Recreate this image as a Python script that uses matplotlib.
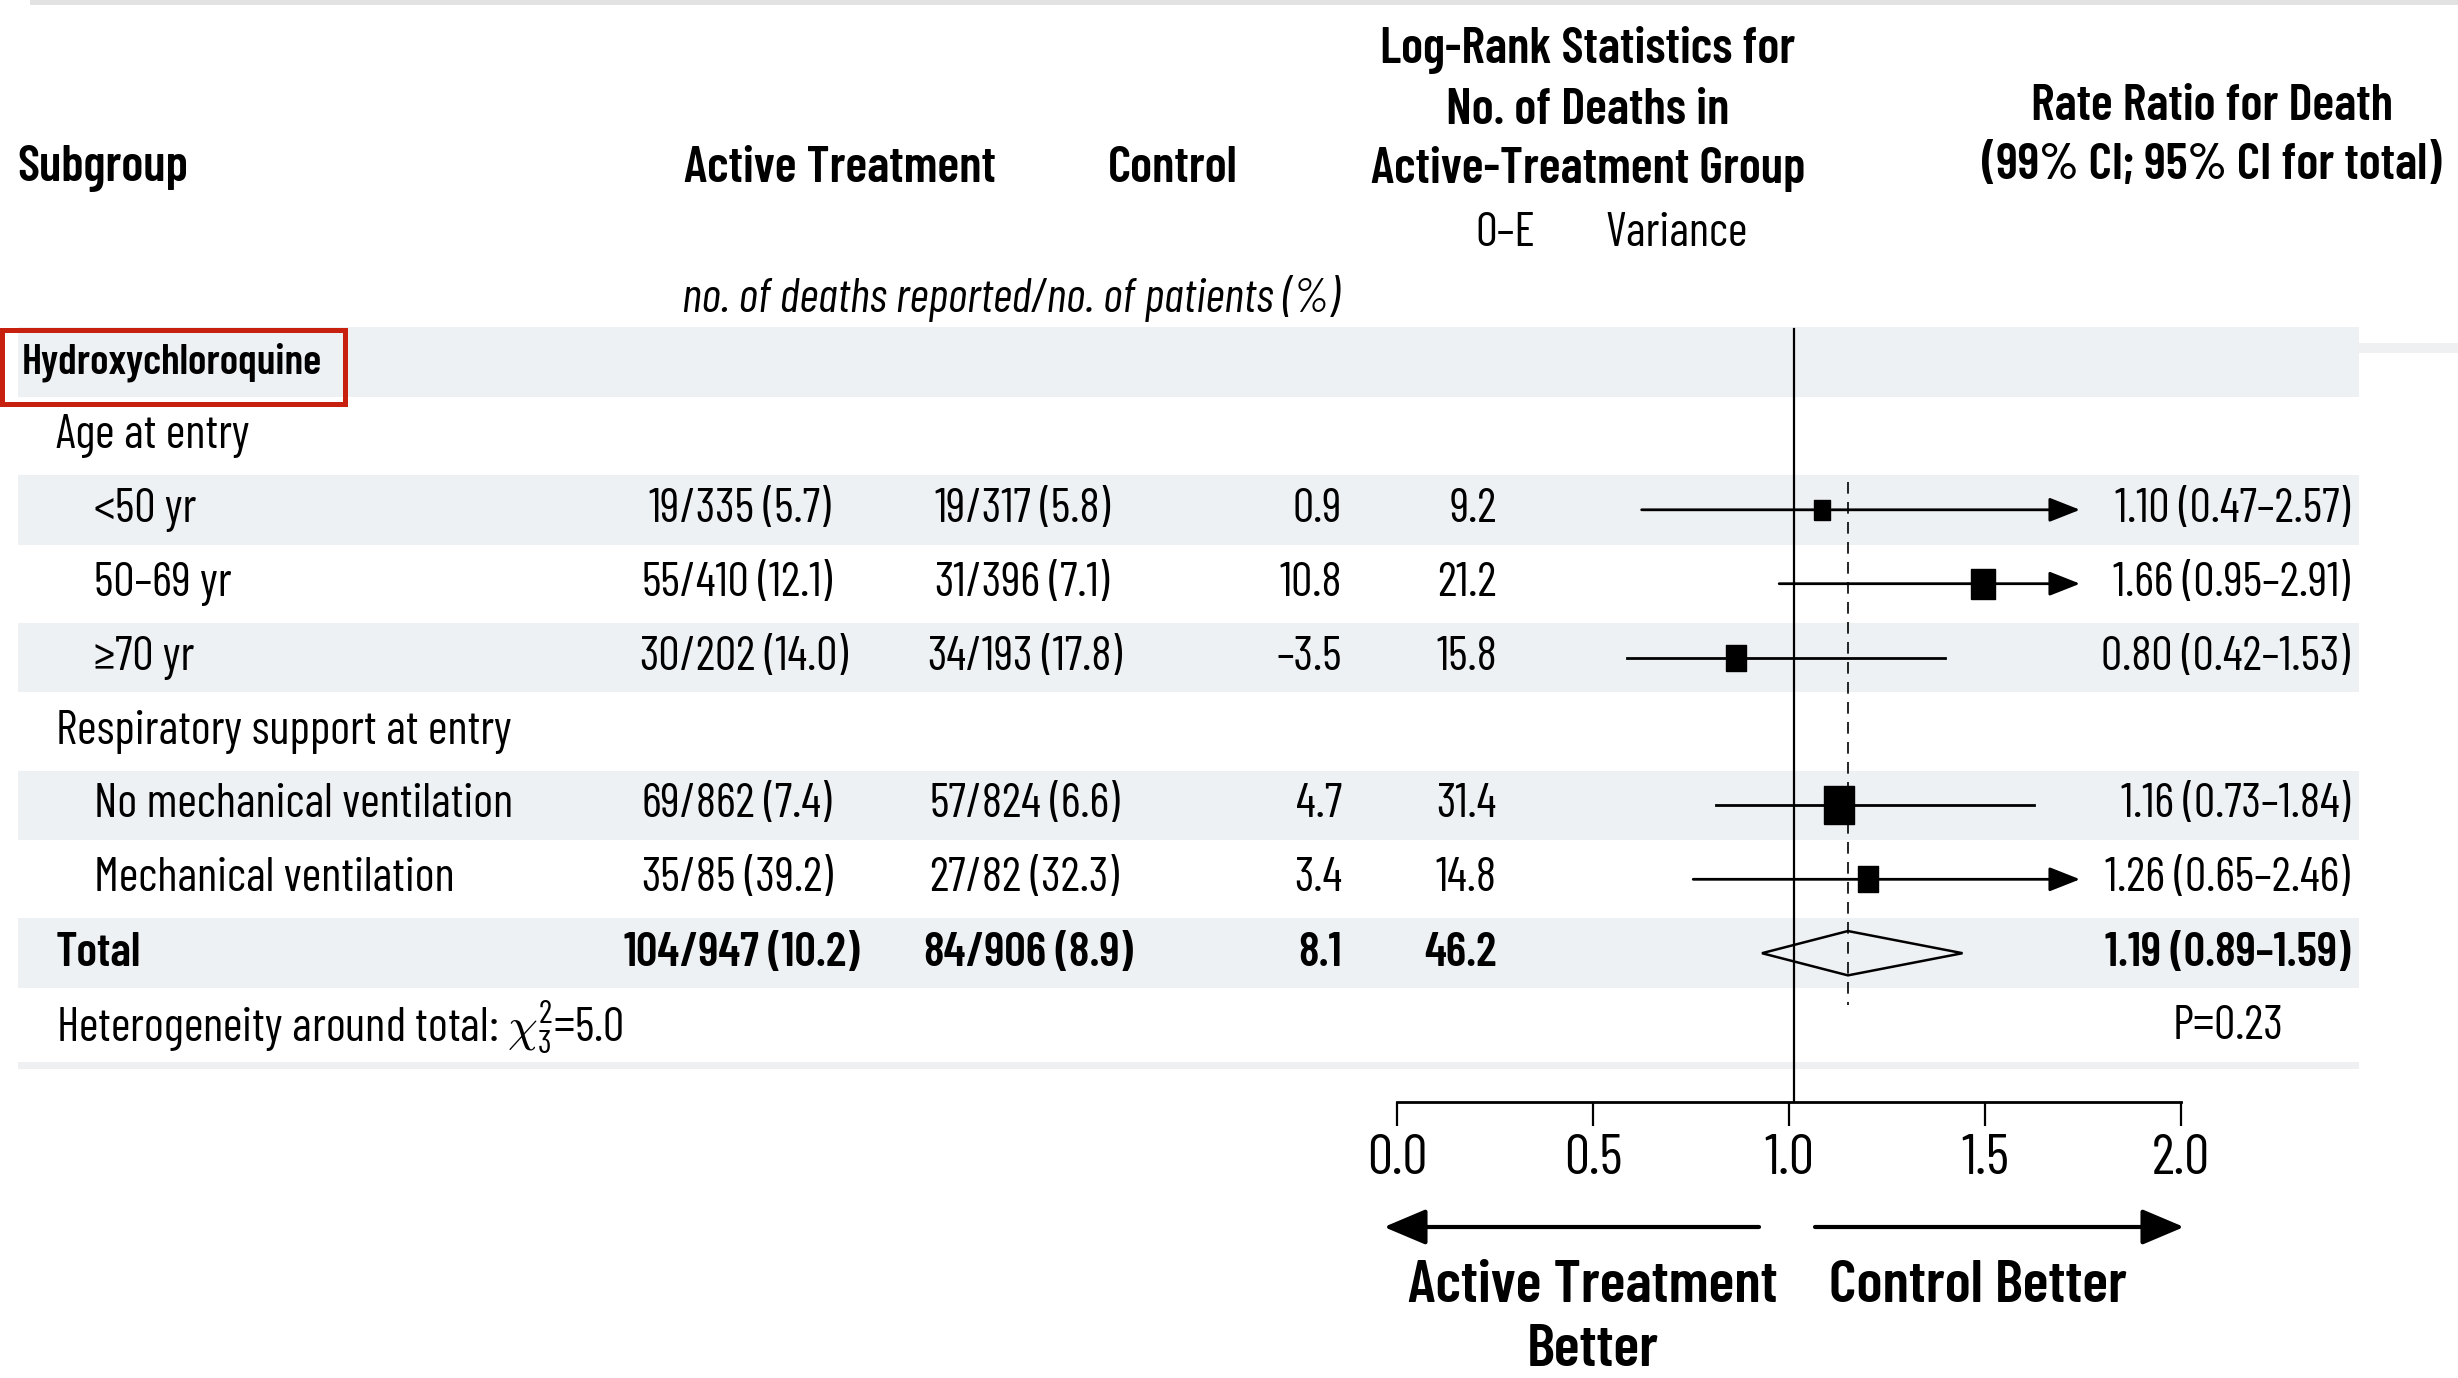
import matplotlib
matplotlib.use("Agg")
import math
import matplotlib.pyplot as plt
from matplotlib import font_manager
from matplotlib.font_manager import FontProperties
from matplotlib.textpath import TextToPath
from matplotlib.patches import Rectangle, Polygon
from matplotlib.path import Path

# ---- data ----
subgroups = ["<50 yr", "50–69 yr", "≥70 yr", "No mechanical ventilation", "Mechanical ventilation"]
active_deaths = [19, 55, 30, 69, 35]
active_n = [335, 410, 202, 862, 85]
active_pct = [5.7, 12.1, 14.0, 7.4, 39.2]
control_deaths = [19, 31, 34, 57, 27]
control_n = [317, 396, 193, 824, 82]
control_pct = [5.8, 7.1, 17.8, 6.6, 32.3]
o_minus_e = [0.9, 10.8, -3.5, 4.7, 3.4]
variance = [9.2, 21.2, 15.8, 31.4, 14.8]
rate_ratio = [1.10, 1.66, 0.80, 1.16, 1.26]
ci_low = [0.47, 0.95, 0.42, 0.73, 0.65]
ci_high = [2.57, 2.91, 1.53, 1.84, 2.46]

total_active = (104, 947, 10.2)
total_control = (84, 906, 8.9)
total_o_minus_e = 8.1
total_variance = 46.2
total_rr = 1.19
total_low = 0.89
total_high = 1.59
chi2_het = 5.0
p_value = 0.23

axis_ticks = [0.0, 0.5, 1.0, 1.5, 2.0]
clip_high = 2.0

# rows: 0 drug, 1 age header, 2-4 ages, 5 resp header, 6-7 resp, 8 total, 9 heterogeneity
data_rows = [2, 3, 4, 6, 7]
total_row = 8
band_rows = [0, 2, 4, 6, 8]

# ---- fonts: pick the condensed sans closest to the journal's narrow face ----
styles = {}
for f in font_manager.fontManager.ttflist:
    styles.setdefault(f.name, set()).add((f.style, f.weight))
candidates = ["Fira Sans Extra Condensed", "PT Sans Narrow", "Roboto Condensed", "Archivo Narrow",
              "Liberation Sans Narrow", "Asap Condensed", "Encode Sans Condensed",
              "IBM Plex Sans Condensed", "Fira Sans Condensed", "Barlow Condensed"]
ttp = TextToPath()


def width_pt(text, fam, size, weight="normal"):
    return ttp.get_text_width_height_descent(text, FontProperties(family=fam, size=size, weight=weight),
                                             ismath=False)[0]


# target widths measured on the reference, in points (px * 0.72)
sample, sample_w = "19/335 (5.7)", 182 * 0.72
best = None
for name in candidates:
    st = styles.get(name, set())
    if not any(s == "normal" and w <= 500 for s, w in st) or not any(s == "normal" and w >= 600 for s, w in st):
        continue
    r = sample_w / width_pt(sample, name, 34)
    if r > 1.12:
        continue
    if best is None or abs(math.log(r)) < abs(math.log(best[1])):
        best = (name, r)
if best is None:
    best = ("Liberation Sans", sample_w / width_pt(sample, "Liberation Sans", 34))
family = best[0]

plt.rcParams["font.family"] = [family, "DejaVu Sans"]
plt.rcParams["mathtext.fontset"] = "custom"
plt.rcParams["mathtext.rm"] = family
plt.rcParams["mathtext.it"] = family + ":italic"

hw = "semibold"
body = 34 * best[1]
head = 34 * (312 * 0.72) / width_pt("Active Treatment", family, 34, hw)
big = 40 * (370 * 0.72) / width_pt("Active Treatment", family, 40, hw)
head = min(head, body * 1.15)
big = min(big, body * 1.35)
drug_size = min(body, 34 * (300 * 0.72) / width_pt("Hydroxychloroquine", family, 34, hw))

W, H = 2458, 1378
Y0, DY = 362, 73.9          # pixel y of row 0, row pitch
X0, PPU = 1507, 286.5       # forest: pixel x of ratio 0, pixels per unit

fig = plt.figure(figsize=(W / 100, H / 100), dpi=100)
ax = fig.add_axes([0, 0, 1, 1])
ax.set_xlim(0, W)
ax.set_ylim(H, 0)
ax.axis("off")


def ry(r):
    return Y0 + r * DY


band = "#eef1f4"

# top rule and bottom rule
ax.add_patch(Rectangle((30, 0), W - 30, 5, color="#e2e2e2", lw=0))
ax.add_patch(Rectangle((18, 1062), 2341, 7, color="#eef0f2", lw=0))
ax.add_patch(Rectangle((2358, 343), 100, 10, color="#eef0f2", lw=0))

for r in band_rows:
    ax.add_patch(Rectangle((18, ry(r) - 0.47 * DY), 2341, 0.94 * DY, color=band, lw=0, zorder=0))

# red box
ax.add_patch(Rectangle((2, 330), 343, 74, fill=False, edgecolor="#c8200e", lw=3.6, zorder=5))

# headers
ax.text(17, 169, "Subgroup", fontsize=head, fontweight=hw, va="center")
ax.text(840, 169, "Active Treatment", fontsize=head, fontweight=hw, va="center", ha="center")
ax.text(1173, 169, "Control", fontsize=head, fontweight=hw, va="center", ha="center")
for y, s in zip([50, 110, 169], ["Log-Rank Statistics for", "No. of Deaths in", "Active-Treatment Group"]):
    ax.text(1588, y, s, fontsize=head, fontweight=hw, va="center", ha="center")
ax.text(1505, 234, "O–E", fontsize=body, va="center", ha="center")
ax.text(1677, 234, "Variance", fontsize=body, va="center", ha="center")
ax.text(2212, 107, "Rate Ratio for Death", fontsize=head, fontweight=hw, va="center", ha="center")
ax.text(2212, 165, "(99% CI; 95% CI for total)", fontsize=head, fontweight=hw, va="center", ha="center")
ax.text(1010, 298, "no. of deaths reported/no. of patients (%)", fontsize=body, style="italic",
        va="center", ha="center")

# left labels
ax.text(22, ry(0), "Hydroxychloroquine", fontsize=drug_size, fontweight=hw, va="center")
ax.text(56, ry(1), "Age at entry", fontsize=body, va="center")
ax.text(56, ry(5), "Respiratory support at entry", fontsize=body, va="center")
ax.text(56, ry(8), "Total", fontsize=body, fontweight=hw, va="center")
ax.text(56, ry(9), r"Heterogeneity around total: $\chi^2_3$=%.1f" % chi2_het, fontsize=body, va="center")
ax.text(2228, ry(9), "P=%.2f" % p_value, fontsize=body, va="center", ha="center")


def frac(x, y, d, n, pct, **kw):
    ax.text(x, y, str(d), ha="right", va="center", fontsize=body, **kw)
    ax.text(x, y, "/%d (%.1f)" % (n, pct), ha="left", va="center", fontsize=body, **kw)


def num(v):
    return ("%.1f" % v).replace("-", "–")


for i, r in enumerate(data_rows):
    y = ry(r)
    ax.text(94, y, subgroups[i], fontsize=body, va="center")
    frac(680, y, active_deaths[i], active_n[i], active_pct[i])
    frac(966, y, control_deaths[i], control_n[i], control_pct[i])
    ax.text(1342, y, num(o_minus_e[i]), fontsize=body, va="center", ha="right")
    ax.text(1497, y, num(variance[i]), fontsize=body, va="center", ha="right")
    ax.text(2350, y, "%.2f (%.2f–%.2f)" % (rate_ratio[i], ci_low[i], ci_high[i]),
            fontsize=body, va="center", ha="right")

y = ry(total_row)
frac(680, y, *total_active, fontweight=hw)
frac(966, y, *total_control, fontweight=hw)
ax.text(1342, y, num(total_o_minus_e), fontsize=body, va="center", ha="right", fontweight=hw)
ax.text(1497, y, num(total_variance), fontsize=body, va="center", ha="right", fontweight=hw)
ax.text(2350, y, "%.2f (%.2f–%.2f)" % (total_rr, total_low, total_high),
        fontsize=body, va="center", ha="right", fontweight=hw)

# ---- forest axes ----
L, R = 1380, 2200
fx = fig.add_axes([L / W, 0, (R - L) / W, 1])
fx.set_xlim((L - X0) / PPU, (R - X0) / PPU)
fx.set_ylim((H - Y0) / DY, (0 - Y0) / DY)
fx.axis("off")

fx.plot([1.0, 1.0], [(329 - Y0) / DY, (1102 - Y0) / DY], color="black", lw=1.6)
fx.plot([total_rr, total_rr], [1.62, 8.7], color="black", lw=1.2, dashes=(7, 5))

box = Path([(-0.78, -1), (0.78, -1), (0.78, 1), (-0.78, 1), (-0.78, -1)])
for i, r in enumerate(data_rows):
    hi = min(ci_high[i], clip_high)
    if ci_high[i] > clip_high:
        fx.annotate("", xy=(hi, r), xytext=(ci_low[i], r),
                    arrowprops=dict(arrowstyle="-|>,head_length=1.9,head_width=0.75",
                                    mutation_scale=10, lw=2.0, color="black",
                                    shrinkA=0, shrinkB=0))
    else:
        fx.plot([ci_low[i], hi], [r, r], color="black", lw=2.0)
    fx.plot(rate_ratio[i], r, marker=box, color="black", ms=4.8 * variance[i] ** 0.5, zorder=4)

dh = 0.3
fx.add_patch(Polygon([(total_low, total_row), (total_rr, total_row - dh),
                      (total_high, total_row), (total_rr, total_row + dh)],
                     closed=True, fill=False, edgecolor="black", lw=1.8, zorder=4))

# ---- scale bar ----
sx = fig.add_axes([1397 / W, (H - 1102) / H, (2181 - 1397) / W, 0.0005])
sx.set_xlim(0, 2)
sx.set_xticks(axis_ticks)
sx.set_xticklabels(["%.1f" % t for t in axis_ticks], fontsize=body * 1.18)
sx.set_yticks([])
for s in ["top", "left", "right"]:
    sx.spines[s].set_visible(False)
sx.spines["bottom"].set_linewidth(2.0)
sx.tick_params(axis="x", direction="out", length=17, width=1.6, pad=6)
sx.patch.set_alpha(0)

# direction arrows
ax.annotate("", xy=(1384, 1227), xytext=(1759, 1227),
            arrowprops=dict(arrowstyle="-|>,head_length=2.6,head_width=1.1", mutation_scale=10,
                            lw=3.0, color="black", shrinkA=0, shrinkB=0))
ax.annotate("", xy=(2184, 1227), xytext=(1815, 1227),
            arrowprops=dict(arrowstyle="-|>,head_length=2.6,head_width=1.1", mutation_scale=10,
                            lw=3.0, color="black", shrinkA=0, shrinkB=0))
ax.text(1593, 1287, "Active Treatment", fontsize=big, fontweight=hw, ha="center", va="center")
ax.text(1593, 1351, "Better", fontsize=big, fontweight=hw, ha="center", va="center")
ax.text(1978, 1287, "Control Better", fontsize=big, fontweight=hw, ha="center", va="center")

fig.savefig("out.png", dpi=100)
